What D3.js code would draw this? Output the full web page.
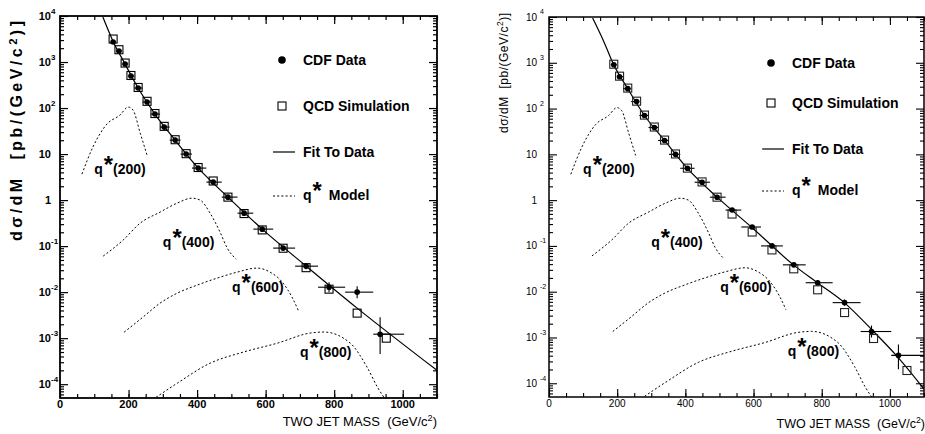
<!DOCTYPE html>
<html><head><meta charset="utf-8">
<script src="https://cdn.jsdelivr.net/npm/d3@7/dist/d3.min.js"></script>
<style>
body{margin:0;background:#fff;}
svg{display:block;font-family:"Liberation Sans",Arial,Helvetica,sans-serif;}
</style>
</head><body>
<svg id="c" width="925" height="434"></svg>
<script>
// ---------------- DATA ----------------
const xTickVals = [0, 200, 400, 600, 800, 1000];
const yTickExps = [4, 3, 2, 1, 0, -1, -2, -3, -4];
const legendLabels = ["CDF Data", "QCD Simulation", "Fit To Data", "Model"];
const qMasses = [200, 400, 600, 800];

// Left panel: CDF data (mass GeV/c^2, dsigma/dM pb/(GeV/c^2))
const massL  = [155,172,190,207,228,254,277,304,336,368,403,447,490,537,590,651,718,785,867,934];
const cdfL   = [2720,1730,906,497,272,135,74,38.6,20.1,10,4.96,2.46,1.16,0.52,0.234,0.0906,0.0367,0.0128,0.0100,0.00122];
const errUpL = [0.03,0.03,0.03,0.03,0.03,0.03,0.04,0.04,0.05,0.05,0.06,0.07,0.08,0.09,0.10,0.12,0.16,0.28,0.35,1.34];
const errDnL = [0.03,0.03,0.03,0.03,0.03,0.03,0.04,0.04,0.05,0.05,0.06,0.07,0.08,0.08,0.09,0.11,0.14,0.22,0.26,0.63];
const edgesL = [147,163,181,199,217,241,265,292,320,352,385,427,472,518,564,622,686,753,832,914,1004];
const simMassL = [155,172,190,207,228,254,277,304,336,368,403,447,490,537,590,651,718,785,867,952];
const simL     = [3160,1850,950,510,280,140,76,40,20.5,10.2,5.1,2.6,1.16,0.51,0.225,0.09,0.034,0.0116,0.0035,0.0010];
const fitMassL = [125,155,190,228,277,336,403,490,590,718,867,1100];
const fitL     = [9500,2800,900,272,74,20,5,1.16,0.234,0.037,0.0045,0.0002];

// Right panel
const massR  = [190,207,231,257,280,309,339,371,406,449,493,537,596,654,718,788,867,946,1025];
const cdfR   = [906,497,272,142,70.5,38.6,20.1,10,4.96,2.46,1.16,0.607,0.259,0.100,0.0386,0.0157,0.00577,0.00135,0.000406];
const errUpR = [0.03,0.03,0.03,0.03,0.03,0.04,0.04,0.05,0.05,0.06,0.07,0.08,0.09,0.10,0.12,0.14,0.17,0.35,0.73];
const errDnR = [0.03,0.03,0.03,0.03,0.03,0.04,0.04,0.05,0.05,0.06,0.07,0.08,0.08,0.09,0.10,0.12,0.14,0.26,0.50];
const edgesR = [181,199,217,241,265,292,320,352,385,427,472,518,564,622,686,753,832,914,1004,1140];
const simMassR = [190,207,231,257,280,309,339,371,406,449,493,537,596,654,718,788,867,952,1050];
const simR     = [930,510,280,145,72,39.5,20.5,10.2,5.0,2.5,1.16,0.497,0.201,0.0818,0.0316,0.0110,0.0035,0.00095,0.00019];
const fitMassR = [128,160,190,231,280,339,406,493,596,718,788,867,946,1025,1100];
const fitR     = [9500,3000,900,272,70.5,20.1,4.96,1.16,0.25,0.038,0.0155,0.0057,0.0015,0.00036,0.000075];

// q* model curves (same in both panels)
const q200M = [64,96,137,175,199,213,234,254];
const q200V = [3.67,14.2,44.9,70.5,105,90.6,28.6,9.5];
const q400M = [126,184,234,292,342,385,409,438,467,488,514];
const q400V = [0.0606,0.135,0.316,0.548,0.861,1.1,1.0,0.52,0.201,0.0906,0.052];
const q600M = [187,242,292,342,400,458,517,575,613,651,677,695];
const q600V = [0.00135,0.00286,0.00577,0.0095,0.0142,0.0201,0.0272,0.0333,0.0272,0.0157,0.00778,0.00406];
const q800M = [270,342,438,534,634,730,770,847,896,928,950];
const q800V = [4.6e-5,1.05e-4,2.86e-4,4.96e-4,7.78e-4,1.29e-3,1.36e-3,7.78e-4,2.34e-4,8.2e-5,4.6e-5];
// label anchors in data coordinates [mass, value]
const qLabelAt = [[100,3.7],[300,0.095],[502,0.0100],[700,0.00039]];

// ---------------- DRAW ----------------
const svg = d3.select('#c');
const Y_MIN = Math.pow(10, -4.3);

function qText(parent, x, yb, fs, suffix, suffixDx) {
  const t = parent.append('text').attr('x', x).attr('y', yb)
    .attr('font-size', fs).attr('font-weight', 'bold').attr('fill', '#000');
  t.append('tspan').text('q');
  t.append('tspan').attr('font-size', fs * 1.7).attr('dx', 1).attr('dy', -1).text('*');
  t.append('tspan').attr('font-size', fs).attr('dy', 1).attr('dx', suffixDx).text(suffix);
}

function panel(P) {
  const x = d3.scaleLinear().domain([0, 1100]).range([P.x0, P.x1]);
  const y = d3.scaleLog().domain([Y_MIN, 1e4]).range([P.y1, P.y0]);
  const g = svg.append('g');
  const cid = 'clip' + P.id;
  svg.append('clipPath').attr('id', cid).append('rect')
    .attr('x', P.x0).attr('y', P.y0).attr('width', P.x1 - P.x0).attr('height', P.y1 - P.y0);

  // ticks
  const minorX = d3.range(0, 1101, 50);
  const minorY = [];
  for (let e = -5; e < 4; e++) for (let m = 2; m <= 9; m++) {
    const v = m * Math.pow(10, e);
    if (v > Y_MIN && v < 1e4) minorY.push(v);
  }
  const majorY = yTickExps.map(e => Math.pow(10, e));
  function ax(fn, scale, vals, size, tr) {
    g.append('g').attr('transform', tr)
      .call(fn(scale).tickValues(vals).tickSize(size).tickFormat(''))
      .call(s => s.select('.domain').remove())
      .call(s => s.selectAll('line').attr('stroke', '#000').attr('stroke-width', P.tickW));
  }
  ax(d3.axisBottom, x, minorX, -4, `translate(0,${P.y1})`);
  ax(d3.axisBottom, x, xTickVals, -8, `translate(0,${P.y1})`);
  ax(d3.axisTop, x, minorX, -4, `translate(0,${P.y0})`);
  ax(d3.axisTop, x, xTickVals, -8, `translate(0,${P.y0})`);
  ax(d3.axisLeft, y, minorY, -4, `translate(${P.x0},0)`);
  ax(d3.axisLeft, y, majorY, -8, `translate(${P.x0},0)`);
  ax(d3.axisRight, y, minorY, -4, `translate(${P.x1},0)`);
  ax(d3.axisRight, y, majorY, -8, `translate(${P.x1},0)`);

  // frame
  g.append('rect').attr('x', P.x0).attr('y', P.y0)
    .attr('width', P.x1 - P.x0).attr('height', P.y1 - P.y0)
    .attr('fill', 'none').attr('stroke', '#000').attr('stroke-width', P.frameW);

  // x tick labels
  g.selectAll('text.xt').data(xTickVals).join('text').attr('class', 'xt')
    .attr('x', d => x(d)).attr('y', P.xLabY).attr('text-anchor', 'middle')
    .attr('font-size', P.tickFs).attr('font-weight', P.tickFw).text(d => d);

  // y tick labels
  yTickExps.forEach(e => {
    const yy = y(Math.pow(10, e));
    const base = e === 0 ? '1' : '10';
    g.append('text').attr('x', P.yLabX).attr('y', yy).attr('dy', '0.35em')
      .attr('text-anchor', 'end').attr('font-size', P.tickFs).attr('font-weight', P.tickFw).text(base);
    if (e !== 0 && e !== 1) {
      g.append('text').attr('x', P.yLabX + P.supGap).attr('y', yy - P.supRise).attr('dy', '0.35em')
        .attr('text-anchor', 'start').attr('font-size', P.supFs).attr('font-weight', P.tickFw).text(String(e));
    }
  });

  // axis titles
  const xt = g.append('text').attr('x', P.x1 + P.xTitleDx).attr('y', P.xTitleY).attr('text-anchor', 'end')
    .attr('font-size', P.xTitleFs).attr('font-weight', P.xTitleFw);
  xt.append('tspan').text('TWO JET MASS\u00a0\u00a0(GeV/c');
  xt.append('tspan').attr('font-size', P.xTitleFs * 0.7).attr('dy', -5).text('2');
  xt.append('tspan').attr('dy', 5).text(')');

  const yt = g.append('text').attr('transform', `translate(${P.yTitleX},${P.yTitleY}) rotate(-90)`)
    .attr('text-anchor', 'middle').attr('font-size', P.yTitleFs).attr('font-weight', P.yTitleFw)
    .attr('textLength', P.yTitleLen).attr('lengthAdjust', 'spacing');
  yt.append('tspan').text('d\u03c3/dM\u00a0\u00a0[pb/(GeV/c');
  yt.append('tspan').attr('font-size', P.yTitleFs * 0.7).attr('dy', -5).text('2');
  yt.append('tspan').attr('dy', 5).text(')]');

  const plot = g.append('g').attr('clip-path', `url(#${cid})`);
  const line = d3.line().x(d => x(d[0])).y(d => y(d[1])).curve(d3.curveMonotoneX);

  // q* model curves
  [[q200M, q200V], [q400M, q400V], [q600M, q600V], [q800M, q800V]].forEach(([m, v]) => {
    plot.append('path').attr('d', line(m.map((d, i) => [d, v[i]])))
      .attr('fill', 'none').attr('stroke', '#000').attr('stroke-width', 1)
      .attr('stroke-dasharray', '2,2.2');
  });

  // fit
  plot.append('path').attr('d', line(P.fitM.map((d, i) => [d, P.fitV[i]])))
    .attr('fill', 'none').attr('stroke', '#000').attr('stroke-width', 1.2);

  // error bars
  P.mass.forEach((m, i) => {
    const v = P.cdf[i];
    plot.append('line').attr('x1', x(P.edges[i])).attr('x2', x(P.edges[i + 1]))
      .attr('y1', y(v)).attr('y2', y(v)).attr('stroke', '#000').attr('stroke-width', 1.1);
    plot.append('line').attr('x1', x(m)).attr('x2', x(m))
      .attr('y1', y(v * (1 - P.errDn[i]))).attr('y2', y(v * (1 + P.errUp[i])))
      .attr('stroke', '#000').attr('stroke-width', 1.1);
  });
  // simulation squares
  plot.selectAll('rect.sim').data(P.simM).join('rect').attr('class', 'sim')
    .attr('x', d => x(d) - P.sq / 2).attr('y', (d, i) => y(P.simV[i]) - P.sq / 2)
    .attr('width', P.sq).attr('height', P.sq).attr('fill', 'none')
    .attr('stroke', P.sqStroke).attr('stroke-width', 1.1);
  // data dots
  plot.selectAll('circle.cdf').data(P.mass).join('circle').attr('class', 'cdf')
    .attr('cx', d => x(d)).attr('cy', (d, i) => y(P.cdf[i])).attr('r', P.dotR).attr('fill', '#000');

  // q* labels
  qMasses.forEach((q, i) => {
    qText(g, x(qLabelAt[i][0]), y(qLabelAt[i][1]), 14, `(${q})`, 0);
  });

  // legend
  const lx = P.x0 + 222, tx = P.x0 + 243, L = P.legY;
  g.append('circle').attr('cx', lx).attr('cy', L[0]).attr('r', 3.8).attr('fill', '#000');
  g.append('rect').attr('x', lx - 4).attr('y', L[1] - 4).attr('width', 8).attr('height', 8)
    .attr('fill', 'none').attr('stroke', '#000').attr('stroke-width', 1.1);
  g.append('line').attr('x1', lx - 9).attr('x2', lx + 13).attr('y1', L[2]).attr('y2', L[2])
    .attr('stroke', '#000').attr('stroke-width', 1.2);
  g.append('line').attr('x1', lx - 9).attr('x2', lx + 13).attr('y1', L[3]).attr('y2', L[3])
    .attr('stroke', '#000').attr('stroke-width', 1).attr('stroke-dasharray', '2,2.2');
  [0, 1, 2].forEach(k => {
    g.append('text').attr('x', tx).attr('y', L[k] + 5).attr('font-size', 14)
      .attr('font-weight', 'bold').text(legendLabels[k]);
  });
  qText(g, tx, L[3] + 4, 14, legendLabels[3], 7);
}

panel({
  id: 'L', x0: 60, x1: 437, y0: 16, y1: 398, frameW: 1.8, tickW: 1.2,
  tickFs: 11, tickFw: 'bold', supFs: 8, supGap: 0, supRise: 5, yLabX: 51, xLabY: 408,
  xTitleFs: 13, xTitleFw: 'normal', xTitleY: 426, xTitleDx: 0,
  yTitleFs: 16, yTitleFw: 'bold', yTitleX: 22, yTitleY: 131, yTitleLen: 220,
  mass: massL, cdf: cdfL, errUp: errUpL, errDn: errDnL, edges: edgesL,
  simM: simMassL, simV: simL, fitM: fitMassL, fitV: fitL,
  sq: 8, sqStroke: '#000', dotR: 2.8, legY: [60, 106, 152, 196]
});
panel({
  id: 'R', x0: 549, x1: 924, y0: 17, y1: 397, frameW: 1.5, tickW: 1.1,
  tickFs: 10, tickFw: 'normal', supFs: 7, supGap: 3, supRise: 5, yLabX: 537, xLabY: 407,
  xTitleFs: 12.5, xTitleFw: 'normal', xTitleY: 428, xTitleDx: 1,
  yTitleFs: 12, yTitleFw: 'normal', yTitleX: 508, yTitleY: 73, yTitleLen: 120,
  mass: massR, cdf: cdfR, errUp: errUpR, errDn: errDnR, edges: edgesR,
  simM: simMassR, simV: simR, fitM: fitMassR, fitV: fitR,
  sq: 8, sqStroke: '#222', dotR: 2.8, legY: [63, 103, 149, 191]
});
</script>
</body></html>
